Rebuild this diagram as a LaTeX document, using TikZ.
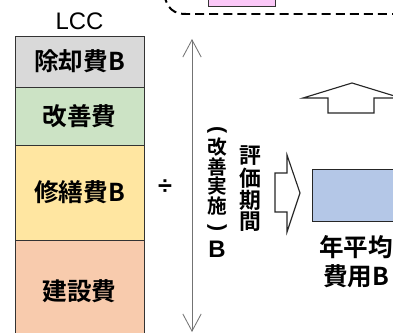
\documentclass[tikz,border=0pt]{standalone}
\usepackage{fontspec}
\setmainfont{Liberation Sans}
\newfontfamily\jp{Noto Sans CJK JP}[BoldFont={Noto Sans CJK JP Bold}]
\usetikzlibrary{arrows.meta, positioning}
\definecolor{jokyaku}{HTML}{D9D9D9}
\definecolor{kaizen}{HTML}{CCE3C5}
\definecolor{shuzen}{HTML}{FFE6A1}
\definecolor{kensetsu}{HTML}{F8CBAD}
\definecolor{heikin}{HTML}{B4C7E7}
\definecolor{pinku}{HTML}{FBC8F8}

\begin{document}
\begin{tikzpicture}[x=0.025cm, y=-0.025cm,
                    costbox/.style={draw=black!80, line width=0.6pt, inner sep=0pt, outer sep=0pt, minimum width=3.225cm, font=\jp\bfseries\fontsize{17.5}{18}\selectfont},
                    vtxt/.style={inner sep=0pt, font=\jp\bfseries\fontsize{15.5}{16}\selectfont},
                    vtxtn/.style={inner sep=0pt, font=\jp\bfseries\fontsize{14}{15}\selectfont},
                    paren/.style={inner sep=0pt, rotate=-90, font=\bfseries\fontsize{15}{16}\selectfont},
                    blockarr/.style={draw=black!85, line width=0.8pt, fill=white, line join=miter},
                    period/.style={draw=black!55, line width=0.6pt, {Straight Barb[length=4.3mm,width=4.6mm]}-{Straight Barb[length=4.3mm,width=4.6mm]}}]
    \useasboundingbox (0,0) rectangle (393,333);
    \begin{scope}
        \clip (0,0) rectangle (393,333);
        % upper group (cut off)
        \node[draw=black!80, fill=pinku, line width=0.6pt, inner sep=0pt, minimum width=1.675cm, minimum height=0.4cm] (pink) at (241.5,-2) {};
        \draw[line width=1.4pt, dash pattern=on 6.4pt off 3.6pt] (164,-6) .. controls (167,9) and (174,14) .. (186,14) -- (400,14);
        % LCC stack
        \node[font=\fontsize{17}{18}\selectfont] (lcc) at (79.5,21) {LCC};
        \node[costbox, fill=jokyaku, minimum height=1.275cm] (jb) at (79.5,61.5) {除却費B};
        \node[costbox, fill=kaizen, minimum height=1.45cm] (kz) at (79.5,116) {改善費};
        \node[costbox, fill=shuzen, minimum height=2.375cm] (sz) at (79.5,192.5) {修繕費B};
        \node[costbox, fill=kensetsu, minimum height=2.55cm] (ks) at (79.5,291) {建設費};
        \node[font=\bfseries\fontsize{18}{19}\selectfont] (div) at (165,187) {÷};
        % evaluation period
        \coordinate (ptop) at (192,39);
        \coordinate (pbot) at (192,332);
        \draw[period] (ptop) -- (pbot);
        \node[paren] (kaL) at (217,130) {(};
        \foreach \c/\y [count=\i] in {改/147.5,善/167,実/186.5,施/206}
            \node[vtxtn] (ka\i) at (217,\y) {\c};
        \node[paren] (kaR) at (217,228) {)};
        \node[font=\bfseries\fontsize{17}{18}\selectfont, inner sep=0pt] (kaB) at (217,249) {B};
        \foreach \c/\y [count=\i] in {評/156,価/178,期/200,間/222}
            \node[vtxt] (hk\i) at (250,\y) {\c};
        % arrows and annual cost
        \draw[blockarr] (275,173) -- (287,173) -- (287,155) -- (300,193) -- (287,232) -- (287,212) -- (275,212) -- cycle;
        \node[draw=black!85, fill=heikin, line width=0.8pt, inner sep=0pt, minimum width=2.2cm, minimum height=1.3cm, anchor=north west] (avg) at (312,169) {};
        \node[font=\jp\bfseries\fontsize{17.5}{20.5}\selectfont, align=center] (avgl) at (356,262) {年平均\\費用B};
        \draw[blockarr] (352,83) -- (401,98) -- (374,98) -- (374,113) -- (328,113) -- (328,98) -- (303,98) -- cycle;
    \end{scope}
\end{tikzpicture}
\end{document}
